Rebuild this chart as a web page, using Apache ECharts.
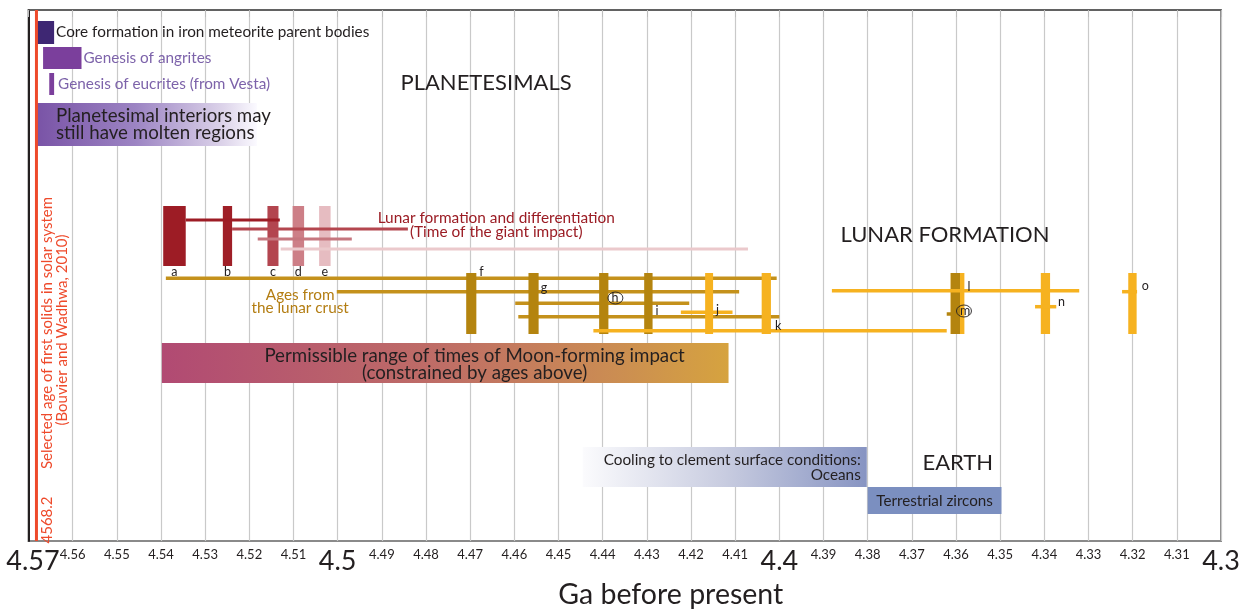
<!DOCTYPE html>
<html><head><meta charset="utf-8">
<script src="https://cdn.jsdelivr.net/npm/echarts@6/dist/echarts.min.js"></script>
<style>html,body{margin:0;padding:0;background:#fff}#c{width:1247px;height:610px}</style>
</head><body><div id="c"></div>
<script>
// ================= DATA (ages in Ga before present) =================
const axisYoungest = 4.3, axisOldest = 4.57, tickStep = 0.01;
const majorTicks = [4.57, 4.5, 4.4, 4.3];
const axisTitle = 'Ga before present';

const firstSolidsAge = 4.5682;
const firstSolidsTexts = ['4568.2', 'Selected age of first solids in solar system', '(Bouvier and Wadhwa, 2010)'];

const earlyNames = ['Core formation in iron meteorite parent bodies', 'Genesis of angrites', 'Genesis of eucrites (from Vesta)'];
const earlyOld   = [4.5683, 4.5667, 4.5653];
const earlyYoung = [4.5642, 4.5580, 4.5642];

const moltenTexts = ['Planetesimal interiors may', 'still have molten regions'];
const moltenOld = [4.5683], moltenYoung = [4.5183];

const lunarLetters = ['a', 'b', 'c', 'd', 'e'];
const lunarOld   = [4.5395, 4.5260, 4.5159, 4.5102, 4.5042];
const lunarYoung = [4.5344, 4.5239, 4.5134, 4.5076, 4.5016];
const lunarSpanOld   = [4.5344, 4.5239, 4.5181, 4.5129];
const lunarSpanYoung = [4.5131, 4.4841, 4.4968, 4.4071];
const lunarTitle = ['Lunar formation and differentiation', '(Time of the giant impact)'];

const crustLetters = ['f', 'g', 'h', 'i', 'j', 'k', 'l', 'm', 'n', 'o'];
const crustOld   = [4.4709, 4.4568, 4.4408, 4.4306, 4.4168, 4.4040, 4.3612, 4.3612, 4.3408, 4.3210];
const crustYoung = [4.4686, 4.4545, 4.4387, 4.4287, 4.4150, 4.4019, 4.3581, 4.3591, 4.3387, 4.3191];
const crustSpanOld   = [4.5389, 4.5002, 4.4598, 4.4591, 4.4223, 4.4421, 4.3881, 4.3621, 4.3421, 4.3224];
const crustSpanYoung = [4.4006, 4.4091, 4.4204, 4.4000, 4.4106, 4.3621, 4.3321, 4.3602, 4.3373, 4.3190];
const crustTexts = ['Ages from', 'the lunar crust'];

const impactOld = [4.5398], impactYoung = [4.4115];
const impactTexts = ['Permissible range of times of Moon-forming impact', '(constrained by ages above)'];

const coolingOld = [4.4445], coolingYoung = [4.3802];
const coolingTexts = ['Cooling to clement surface conditions:', 'Oceans'];
const zirconOld = [4.3800], zirconYoung = [4.3497];
const zirconText = 'Terrestrial zircons';

const sectionTitles = ['PLANETESIMALS', 'LUNAR FORMATION', 'EARTH'];

// ================= LAYOUT (vertical rows in px below plot top; not data) =================
const Y_MAX = 531;
const rowEarly = [[11, 34], [37, 59], [63, 85]];
const rowMolten = [[93, 136]];
const rowLunarBar = [196, 256];
const rowLunarSpan = [210, 219, 229, 239];
const rowCrustBar = [263, 324];
const rowCrustSpan = [268.3, 281.7, 293.3, 306.7, 302.3, 320.7, 280.7, 304, 296.7, 281.7];
const rowImpact = [[333, 373]];
const rowCooling = [[437, 477]];
const rowZircon = [[477, 504]];

// ================= STYLES =================
const FONT = 'Lato, "Open Sans", sans-serif';
const INK = '#231f20';
const RED = '#ee4a2b';
const G = echarts.graphic.LinearGradient;
const earlyFill = ['#3e2773', '#7b3f9c', '#7b3f9c'];
const earlyTextColor = [INK, '#7d63aa', '#7d63aa'];
const moltenFill = [new G(0, 0, 1, 0, [{offset: 0, color: '#7953a6'}, {offset: 0.45, color: '#9c84c3'}, {offset: 0.85, color: '#ddd4ea'}, {offset: 1, color: '#fbfaff'}])];
const lunarBarFill = ['#9d1c25', '#9f1f27', '#b3454f', '#cd7f87', '#e6bcc1'];
const lunarSpanFill = ['#9d1c25', '#b4464f', '#c6777f', '#ebc9cc'];
const DARKG = '#b4840f', LIGHTG = '#f6b220', MIDG = '#c4911b';
const crustBarFill = [DARKG, DARKG, DARKG, DARKG, LIGHTG, LIGHTG, LIGHTG, DARKG, LIGHTG, LIGHTG];
const crustSpanFill = [MIDG, MIDG, MIDG, MIDG, LIGHTG, LIGHTG, LIGHTG, DARKG, LIGHTG, LIGHTG];
const impactFill = [new G(0, 0, 1, 0, [{offset: 0, color: '#b14a73'}, {offset: 0.5, color: '#bf6e66'}, {offset: 0.8, color: '#cb8d52'}, {offset: 1, color: '#d6a33f'}])];
const coolingFill = [new G(0, 0, 1, 0, [{offset: 0, color: '#fbfbfd'}, {offset: 0.5, color: '#c8cce0'}, {offset: 1, color: '#8794c2'}])];
const zirconFill = ['#7b8fc0'];

// ================= HELPERS =================
function rects(olds, youngs, ys, fills, z) {
  return {
    type: 'custom', coordinateSystem: 'cartesian2d', silent: true, animation: false, z: z, clip: false,
    data: olds.map((o, i) => [o, youngs[i], ys[i][0], ys[i][1], i]),
    encode: {x: [0, 1], y: [2, 3]},
    renderItem: function (params, api) {
      const i = api.value(4);
      const p0 = api.coord([api.value(0), api.value(2)]);
      const p1 = api.coord([api.value(1), api.value(3)]);
      return {type: 'rect', shape: {x: Math.min(p0[0], p1[0]), y: Math.min(p0[1], p1[1]),
        width: Math.abs(p1[0] - p0[0]), height: Math.abs(p1[1] - p0[1])}, style: {fill: fills[i]}};
    }
  };
}
function spanRows(centers, h) { return centers.map(c => [c - h / 2, c + h / 2]); }
function texts(specs, z) {
  return {
    type: 'custom', coordinateSystem: 'cartesian2d', silent: true, animation: false, z: z || 20, clip: false,
    data: specs.map((s, i) => [s.ga, s.y, i]),
    encode: {x: 0, y: 1},
    renderItem: function (params, api) {
      const s = specs[api.value(2)];
      const p = api.coord([api.value(0), api.value(1)]);
      const x = p[0] + (s.dx || 0), y = p[1] + (s.dy || 0);
      const kids = [{type: 'text', x: x, y: y, rotation: s.rot || 0,
        style: {text: s.text, fill: s.color || INK, fontSize: s.size, fontFamily: FONT,
          fontWeight: s.weight || 'normal', align: s.align || 'center', verticalAlign: 'middle',
          textAlign: s.align || 'center', textVerticalAlign: 'middle'}}];
      if (s.circle) kids.push({type: 'circle', x: x + (s.align === 'left' ? 4 : 0), y: y, scaleX: 1.25,
        shape: {cx: 0, cy: 0, r: 6}, style: {fill: null, stroke: INK, lineWidth: 0.8}});
      return {type: 'group', children: kids};
    }
  };
}

// ================= TEXT SPECS =================
const textSpecs = [];
earlyNames.forEach((t, i) => textSpecs.push({ga: earlyYoung[i], dx: i === 0 ? 2 : (i === 1 ? 2 : 4), y: (rowEarly[i][0] + rowEarly[i][1]) / 2, text: t, size: 15.3, align: 'left', color: earlyTextColor[i]}));
moltenTexts.forEach((t, i) => textSpecs.push({ga: moltenOld[0], dx: 20, y: 106 + i * 17, text: t, size: 18.7, align: 'left'}));
textSpecs.push({ga: 4.4664, y: 73, text: sectionTitles[0], size: 22});
textSpecs.push({ga: 4.3625, y: 225, text: sectionTitles[1], size: 22});
textSpecs.push({ga: 4.3596, y: 453, text: sectionTitles[2], size: 22});
lunarTitle.forEach((t, i) => textSpecs.push({ga: 4.4641, y: 208 + i * 14, text: t, size: 15.4, color: '#9b1c24'}));
lunarLetters.forEach((t, i) => textSpecs.push({ga: (lunarOld[i] + lunarYoung[i]) / 2, y: 262, text: t, size: 12.5}));
const crustLetterY = [262, 278, 288, 301, 300, 316, 277, 301, 292, 276];
const crustLetterDx = [3, 2, 3, 3, 3, 4, 3, 0, 8, 5];
crustLetters.forEach((t, i) => textSpecs.push({ga: crustYoung[i], dx: crustLetterDx[i], y: crustLetterY[i], text: t, size: 12.5, align: 'left', circle: (t === 'h' || t === 'm')}));
crustTexts.forEach((t, i) => textSpecs.push({ga: 4.5085, y: 285 + i * 13, text: t, size: 15.3, color: '#b37d12'}));
impactTexts.forEach((t, i) => textSpecs.push({ga: 4.4690, y: 346 + i * 17, text: t, size: 18.7}));
coolingTexts.forEach((t, i) => textSpecs.push({ga: coolingYoung[0], dx: -6, y: 450 + i * 15, text: t, size: 15.3, align: 'right'}));
textSpecs.push({ga: (zirconOld[0] + zirconYoung[0]) / 2, y: 491, text: zirconText, size: 15.2});
textSpecs.push({ga: firstSolidsAge, dx: 10.5, y: 510, text: firstSolidsTexts[0], size: 15, color: RED, rot: Math.PI / 2});
textSpecs.push({ga: firstSolidsAge, dx: 10.5, y: 323, text: firstSolidsTexts[1], size: 15, color: RED, rot: Math.PI / 2});
textSpecs.push({ga: firstSolidsAge, dx: 26, y: 320, text: firstSolidsTexts[2], size: 15, color: RED, rot: Math.PI / 2});

// ================= CHART =================
const chart = echarts.init(document.getElementById('c'));
chart.setOption({
  backgroundColor: '#fff',
  animation: false,
  grid: {left: 28.5, right: 26, top: 10, bottom: 69, show: true, borderColor: '#8a8a8a', borderWidth: 2,
    backgroundColor: 'transparent', containLabel: false, outerBoundsMode: 'none'},
  xAxis: {
    type: 'value', inverse: true, min: axisYoungest, max: axisOldest, interval: tickStep,
    name: axisTitle, nameLocation: 'middle', nameGap: 36,
    nameTextStyle: {fontSize: 28.5, fontFamily: FONT, color: INK, padding: [0, 0, 0, 92]},
    axisLine: {show: true, lineStyle: {color: '#555', width: 1.5}},
    axisTick: {show: true, length: 7, lineStyle: {color: '#bdbdbd'}},
    splitLine: {show: true, lineStyle: {color: '#c9c9c9', width: 1.2}},
    axisLabel: {
      margin: 7, showMinLabel: true, showMaxLabel: true, hideOverlap: false,
      formatter: function (v) {
        const r = Math.round(v * 100) / 100;
        const s = String(r);
        if (r === majorTicks[0]) return '{first|' + s + '}';
        return majorTicks.indexOf(r) >= 0 ? '{big|' + s + '}' : '{sm|' + s + '}';
      },
      rich: {
        first: {fontSize: 27, fontFamily: FONT, color: INK, padding: [0, 0, 0, 9]},
        big: {fontSize: 27, fontFamily: FONT, color: INK},
        sm: {fontSize: 13, fontFamily: FONT, color: INK}
      }
    }
  },
  yAxis: {
    type: 'value', inverse: true, min: 0, max: Y_MAX,
    axisLine: {show: true, lineStyle: {color: INK, width: 2}},
    axisTick: {show: false}, axisLabel: {show: false}, splitLine: {show: false}
  },
  series: [
    rects(moltenOld, moltenYoung, rowMolten, moltenFill, 2),
    rects(impactOld, impactYoung, rowImpact, impactFill, 2),
    rects(coolingOld, coolingYoung, rowCooling, coolingFill, 2),
    rects(zirconOld, zirconYoung, rowZircon, zirconFill, 2),
    rects(earlyOld, earlyYoung, rowEarly, earlyFill, 3),
    rects(lunarOld, lunarYoung, lunarOld.map(() => rowLunarBar), lunarBarFill, 3),
    rects(lunarSpanOld, lunarSpanYoung, spanRows(rowLunarSpan, 3), lunarSpanFill, 4),
    rects(crustSpanOld.slice(0, 5), crustSpanYoung.slice(0, 5), spanRows(rowCrustSpan.slice(0, 5), 3.5), crustSpanFill.slice(0, 5), 4),
    rects(crustOld, crustYoung, crustOld.map(() => rowCrustBar), crustBarFill, 5),
    rects(crustSpanOld.slice(5), crustSpanYoung.slice(5), spanRows(rowCrustSpan.slice(5), 3.5), crustSpanFill.slice(5), 6),
    {
      type: 'custom', coordinateSystem: 'cartesian2d', silent: true, animation: false, z: 8, clip: false,
      data: [[firstSolidsAge, 0, Y_MAX]], encode: {x: 0, y: [1, 2]},
      renderItem: function (params, api) {
        const a = api.coord([api.value(0), api.value(1)]), b = api.coord([api.value(0), api.value(2)]);
        return {type: 'line', shape: {x1: a[0], y1: a[1], x2: b[0], y2: b[1]}, style: {stroke: RED, lineWidth: 3}};
      }
    },
    texts(textSpecs, 20)
  ]
});
</script></body></html>
